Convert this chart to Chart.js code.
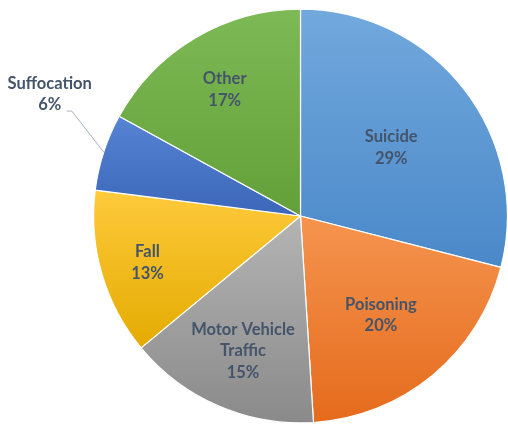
<!DOCTYPE html>
<html>
<head>
<meta charset="utf-8">
<script src="https://cdn.jsdelivr.net/npm/chart.js@4/dist/chart.umd.min.js"></script>
<style>
  html, body { margin: 0; padding: 0; background: #fff; }
  #wrap { width: 508px; height: 424px; position: relative; }
</style>
</head>
<body>
<div id="wrap"><canvas id="pie"></canvas></div>
<script>
const categories = ['Suicide', 'Poisoning', 'Motor Vehicle Traffic', 'Fall', 'Suffocation', 'Other'];
const labelLines = [['Suicide'], ['Poisoning'], ['Motor Vehicle', 'Traffic'], ['Fall'], ['Suffocation'], ['Other']];
const percents = [29, 20, 15, 13, 6, 17];

// light (top) -> dark (bottom) for each slice
const topColors = ['#72a9dd', '#f5944f', '#b4b4b4', '#ffca3c', '#5683d2', '#7dba55'];
const bottomColors = ['#4a88c9', '#e56b1c', '#8a8a8a', '#e3ab00', '#3c67ba', '#63a03a'];
const labelDist = [0.555, 0.61, 0.70, 0.77, null, 0.72];

function sliceGradient(ctx) {
  const chart = ctx.chart;
  const i = ctx.dataIndex;
  const area = chart.chartArea;
  if (!area) return topColors[i];
  const cx = (area.left + area.right) / 2;
  const cy = (area.top + area.bottom) / 2;
  const r = Math.min(area.right - area.left, area.bottom - area.top) / 2;
  const total = percents.reduce((a, b) => a + b, 0);
  let start = 0;
  for (let k = 0; k < i; k++) start += percents[k];
  const a0 = start / total * Math.PI * 2 - Math.PI / 2;
  const a1 = (start + percents[i]) / total * Math.PI * 2 - Math.PI / 2;
  let ymin = cy, ymax = cy;
  for (let s = 0; s <= 40; s++) {
    const a = a0 + (a1 - a0) * s / 40;
    const y = cy + r * Math.sin(a);
    ymin = Math.min(ymin, y);
    ymax = Math.max(ymax, y);
  }
  const g = chart.ctx.createLinearGradient(0, ymin, 0, ymax);
  g.addColorStop(0, topColors[i]);
  g.addColorStop(1, bottomColors[i]);
  return g;
}

const labelPlugin = {
  id: 'sliceLabels',
  afterDatasetsDraw(chart) {
    const ctx = chart.ctx;
    const meta = chart.getDatasetMeta(0);
    ctx.save();
    ctx.font = 'bold 16.5px Lato, "Open Sans", sans-serif';
    ctx.fillStyle = '#44546a';
    ctx.textAlign = 'center';
    ctx.textBaseline = 'middle';
    const lh = 21.5;
    meta.data.forEach((arc, i) => {
      const mid = (arc.startAngle + arc.endAngle) / 2;
      const lines = labelLines[i].concat([percents[i] + '%']);
      let x, y;
      if (labelDist[i] !== null) {
        x = arc.x + Math.cos(mid) * arc.outerRadius * labelDist[i];
        y = arc.y + Math.sin(mid) * arc.outerRadius * labelDist[i] + 2;
      } else {
        const ex = arc.x + Math.cos(mid) * arc.outerRadius;
        const ey = arc.y + Math.sin(mid) * arc.outerRadius;
        ctx.strokeStyle = '#a6b0bf';
        ctx.lineWidth = 1;
        ctx.beginPath();
        ctx.moveTo(ex, ey);
        ctx.lineTo(ex - 32, ey - 41);
        ctx.lineTo(ex - 37, ey - 41);
        ctx.stroke();
        x = ex - 54;
        y = ey - 58;
      }
      lines.forEach((t, j) => {
        ctx.fillText(t, x, y + (j - (lines.length - 1) / 2) * lh);
      });
    });
    ctx.restore();
  }
};

new Chart(document.getElementById('pie'), {
  type: 'pie',
  data: {
    labels: categories,
    datasets: [{
      data: percents,
      backgroundColor: sliceGradient,
      borderColor: '#ffffff',
      borderWidth: 1.2
    }]
  },
  options: {
    responsive: true,
    maintainAspectRatio: false,
    animation: false,
    layout: { padding: { left: 93, right: 0, top: 8, bottom: 0 } },
    plugins: {
      legend: { display: false },
      tooltip: { enabled: false }
    }
  },
  plugins: [labelPlugin]
});
</script>
</body>
</html>
